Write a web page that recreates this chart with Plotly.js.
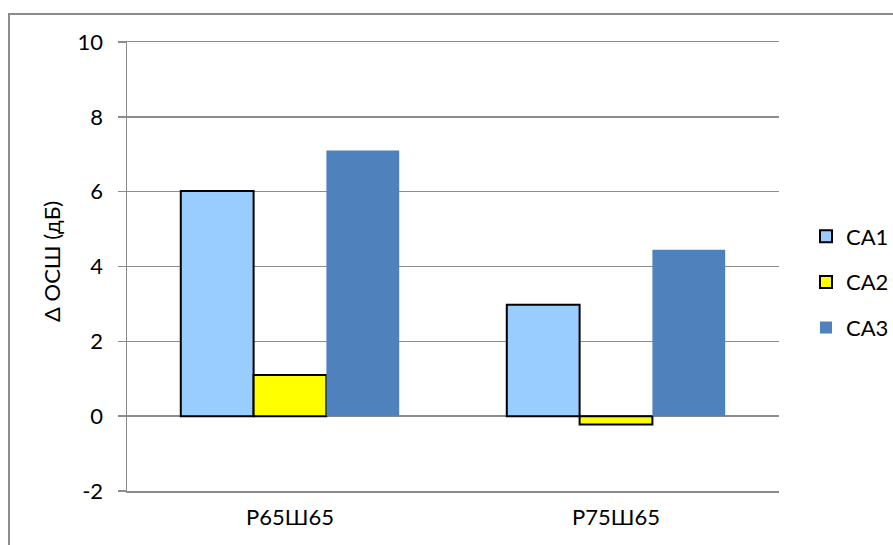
<!DOCTYPE html>
<html>
<head>
<meta charset="utf-8">
<script src="https://cdn.plot.ly/plotly-3.0.1.min.js"></script>
<style>html,body{margin:0;padding:0;background:#fff;}#chart{width:893px;height:545px;}</style>
</head>
<body>
<div id="chart"></div>
<script>
const categories = ["Р65Ш65", "Р75Ш65"];
const seriesNames = ["CA1", "CA2", "CA3"];
const ca1 = [6.02, 2.98];
const ca2 = [1.1, -0.22];
const ca3 = [7.1, 4.45];
const yTicks = [-2, 0, 2, 4, 6, 8, 10];
const yTitle = "Δ ОСШ (дБ)";

const FONT = "Lato, 'Open Sans', sans-serif";
const GRID = "#8c8c8c";
const FS = 22;

const colors = ["#99CCFF", "#FFFF00", "#4F81BD"];
const lineW = [2, 2, 0];
const data = [ca1, ca2, ca3].map((vals, i) => ({
  type: "bar",
  name: seriesNames[i],
  x: categories,
  y: vals,
  legendgroup: "g" + i,
  marker: {color: colors[i], line: {color: "#000", width: lineW[i]}},
  hoverinfo: "y"
}));

const layout = {
  width: 893, height: 545,
  margin: {l: 127, r: 114, t: 42, b: 54, pad: 0, autoexpand: false},
  paper_bgcolor: "#fff", plot_bgcolor: "#fff",
  font: {family: FONT, size: FS, color: "#000"},
  barmode: "group",
  bargap: 0.33,
  bargroupgap: 0,
  showlegend: true,
  legend: {xref: "container", yref: "container", x: 0.9026, xanchor: "left", y: 0.4826, yanchor: "middle",
           traceorder: "grouped", tracegroupgap: 14,
           font: {family: FONT, size: FS, color: "#000"}},
  xaxis: {type: "category", categoryarray: categories, range: [-0.5, 1.5],
          showline: true, mirror: true, linecolor: GRID, linewidth: 1.5,
          ticks: "", showgrid: false, zeroline: false,
          ticklabelstandoff: 6,
          tickfont: {family: FONT, size: FS}},
  xaxis2: {overlaying: "x", anchor: "free", position: 2/12, range: [-0.5, 1.5],
           tickvals: [-0.5, 0.5, 1.5], ticks: "outside", ticklen: 8, tickwidth: 1.5, tickcolor: GRID,
           showticklabels: false, showline: true, linecolor: GRID, linewidth: 1.5,
           showgrid: false, zeroline: false},
  yaxis: {range: [-2, 10], tickvals: yTicks, ticktext: yTicks.map(String),
          showgrid: true, gridcolor: GRID, gridwidth: 1.5,
          zeroline: true, zerolinecolor: GRID, zerolinewidth: 1.5,
          showline: true, linecolor: GRID, linewidth: 1.5,
          ticks: "outside", ticklen: 8, tickwidth: 1.5, tickcolor: GRID,
          ticklabelstandoff: 10,
          tickfont: {family: FONT, size: FS}},
  annotations: [{text: yTitle, xref: "paper", yref: "paper", x: (51 - 127) / 652, y: 0.51,
                 xanchor: "center", yanchor: "middle", textangle: -90, showarrow: false,
                 font: {family: FONT, size: FS, color: "#000"}}],
  shapes: [{type: "rect", xref: "paper", yref: "paper",
            x0: (9 - 127) / 652, x1: 1.4, y0: -0.3, y1: (491 - 14) / 449,
            line: {color: GRID, width: 2}, fillcolor: "rgba(0,0,0,0)", layer: "below"}]
};

Plotly.newPlot("chart", data, layout, {staticPlot: true, displayModeBar: false});
</script>
</body>
</html>
